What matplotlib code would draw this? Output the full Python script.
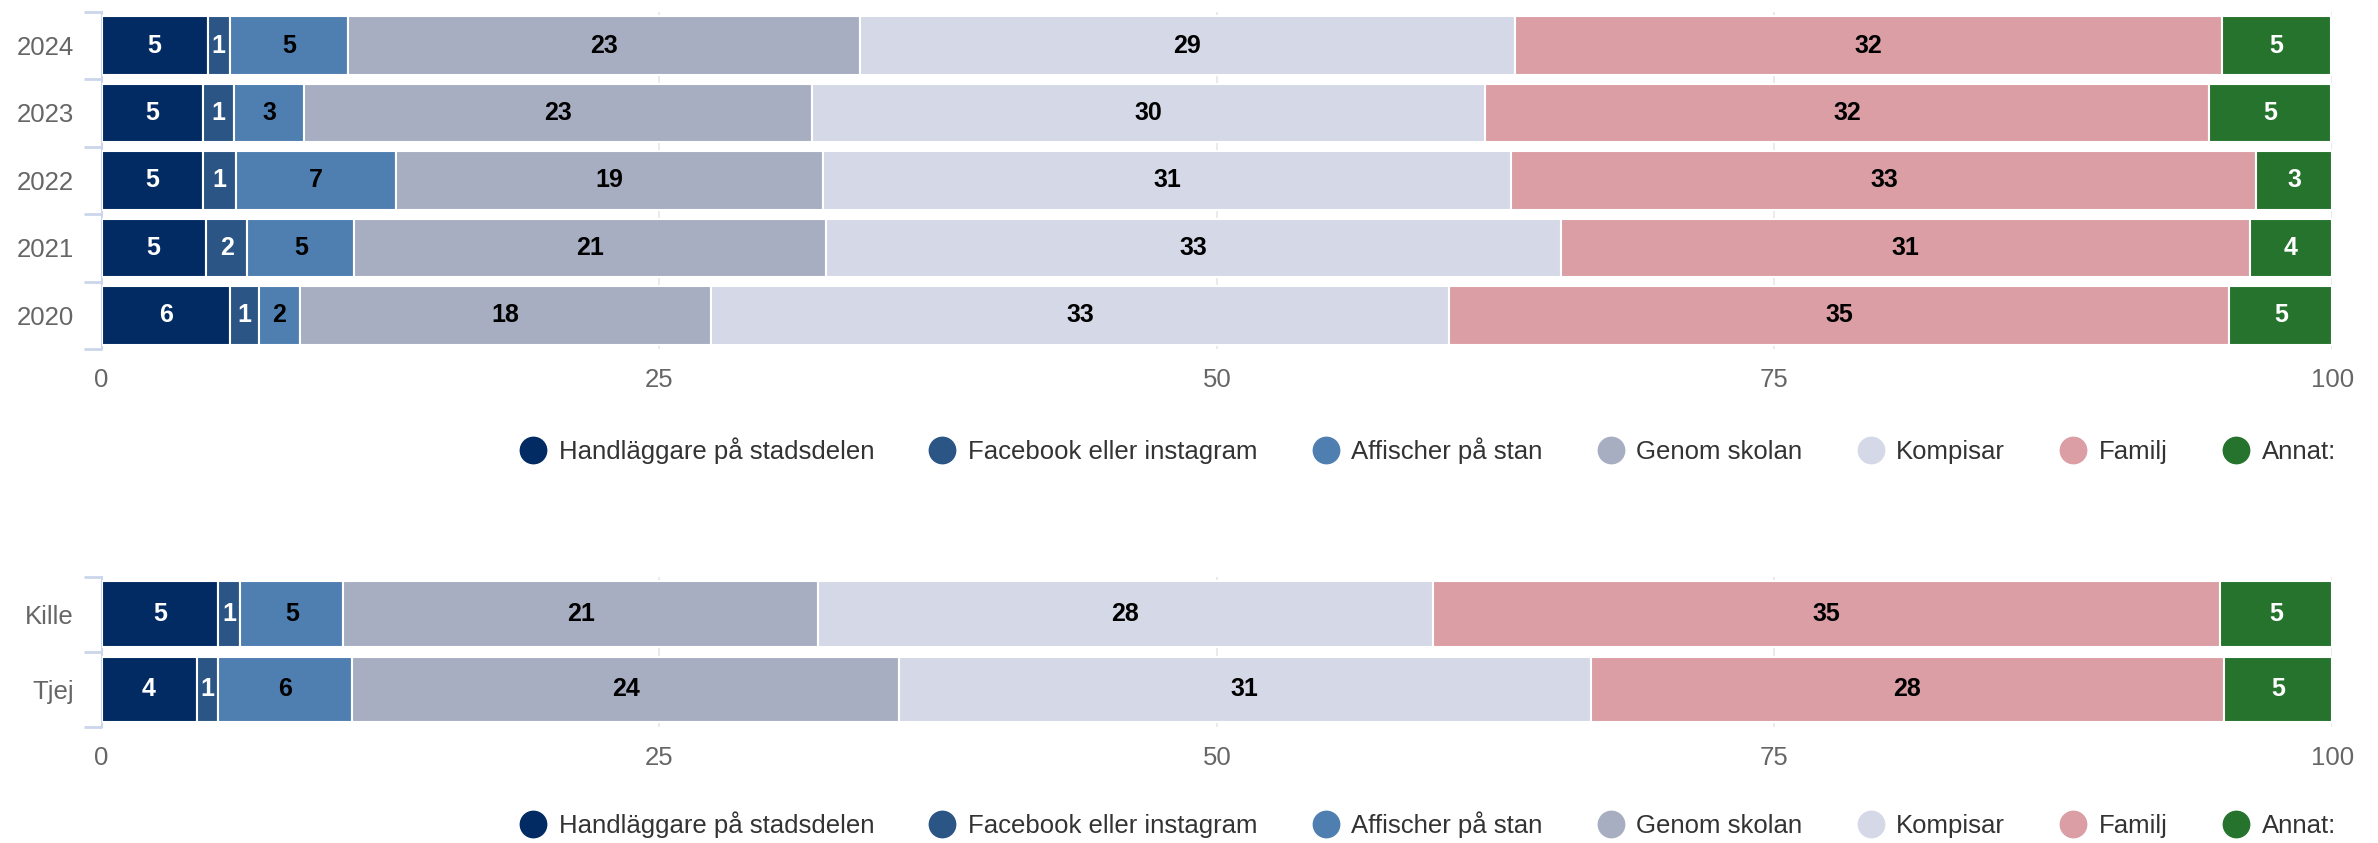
import numpy as np
import matplotlib
matplotlib.use("Agg")
import matplotlib.pyplot as plt
from matplotlib.lines import Line2D

plt.rcParams['font.family'] = ['Liberation Sans', 'DejaVu Sans']

# Series names and colours
series = ["Handläggare på stadsdelen", "Facebook eller instagram", "Affischer på stan",
          "Genom skolan", "Kompisar", "Familj", "Annat:"]
colors = ["#022b63", "#2b5585", "#4f7fb1", "#a8aec2", "#d5d9e7", "#da9ea4", "#26732e"]
label_colors = ["white", "white", "black", "black", "black", "black", "white"]

# Per year (%)
years = ["2024", "2023", "2022", "2021", "2020"]
handlaggare = [4.76, 4.55, 4.55, 4.67, 5.76]
facebook = [1.00, 1.39, 1.48, 1.87, 1.28]
affischer = [5.30, 3.14, 7.17, 4.80, 1.84]
skolan = [22.93, 22.77, 19.13, 21.15, 18.46]
kompisar = [29.37, 30.18, 30.88, 32.95, 33.05]
familj = [31.70, 32.45, 33.39, 30.86, 35.01]
annat = [4.90, 5.45, 3.40, 3.70, 4.60]

# Per gender (%)
genders = ["Kille", "Tjej"]
g_handlaggare = [5.24, 4.26]
g_facebook = [0.98, 0.98]
g_affischer = [4.62, 6.01]
g_skolan = [21.28, 24.49]
g_kompisar = [27.55, 31.03]
g_familj = [35.31, 28.38]
g_annat = [5.02, 4.85]

xticks = [0, 25, 50, 75, 100]


def stacked(ax, cats, data):
    y = np.arange(len(cats))
    left = np.zeros(len(cats))
    for vals, col, lc in zip(data, colors, label_colors):
        vals = np.array(vals)
        bars = ax.barh(y, vals, left=left, height=0.87, color=col,
                       edgecolor="white", linewidth=1.5, zorder=3)
        ax.bar_label(bars, labels=[f"{v:.0f}" for v in vals], label_type="center",
                     color=lc, fontsize=18, fontweight="bold", zorder=4)
        left += vals
    ax.set_xlim(0, 100)
    ax.set_ylim(len(cats) - 0.5, -0.5)
    ax.set_yticks(y)
    ax.set_yticklabels(cats)
    ax.set_yticks(np.arange(len(cats) + 1) - 0.5, minor=True)
    ax.tick_params(axis="y", which="major", length=0, pad=20, labelsize=18.5, labelcolor="#666666")
    ax.tick_params(axis="y", which="minor", length=13, width=2, color="#ccd6eb", direction="out")
    ax.set_xticks(xticks)
    ax.tick_params(axis="x", length=0, pad=14, labelsize=18.5, labelcolor="#666666")
    for s in ["top", "right", "bottom"]:
        ax.spines[s].set_visible(False)
    ax.spines["left"].set_color("#ccd6eb")
    ax.spines["left"].set_linewidth(1.5)
    ax.grid(axis="x", color="#e6e6e6", linewidth=1.2, zorder=0)
    ax.set_axisbelow(True)


fig = plt.figure(figsize=(23.78, 8.43), dpi=100)
ax1 = fig.add_axes([0.0427, 0.586, 0.938, 0.40])
ax2 = fig.add_axes([0.0427, 0.138, 0.938, 0.178])

stacked(ax1, years, [handlaggare, facebook, affischer, skolan, kompisar, familj, annat])
stacked(ax2, genders, [g_handlaggare, g_facebook, g_affischer, g_skolan, g_kompisar,
                       g_familj, g_annat])

handles = [Line2D([], [], marker="o", linestyle="none", markersize=19,
                  markerfacecolor=c, markeredgecolor=c) for c in colors]
for yy in [0.466, 0.022]:
    fig.legend(handles, series, loc="center right", bbox_to_anchor=(0.992, yy),
               ncol=7, frameon=False, fontsize=18.5, labelcolor="#333333",
               handlelength=1.0, handletextpad=0.5, columnspacing=2.15)

fig.savefig("out.png", dpi=100)
